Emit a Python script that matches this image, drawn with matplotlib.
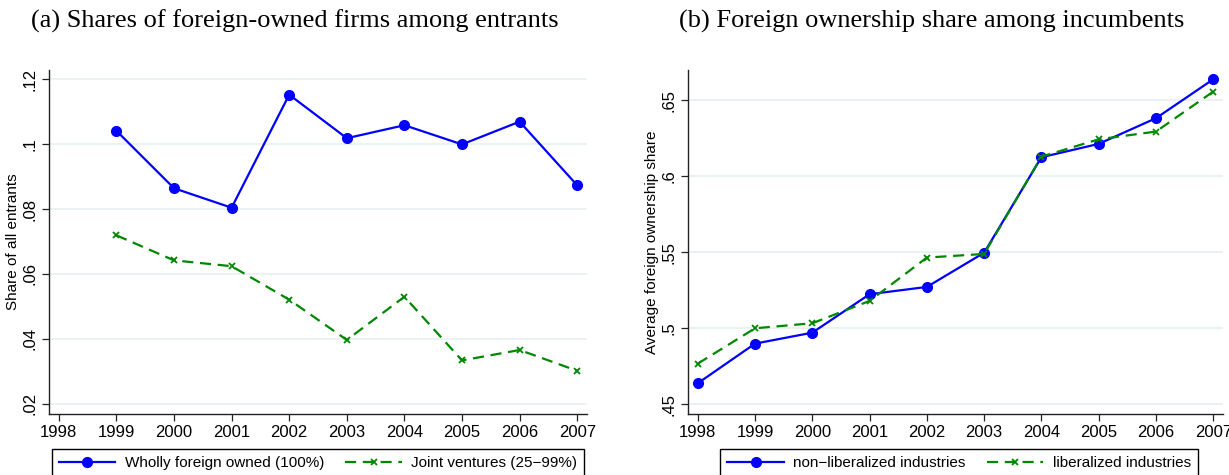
import matplotlib
matplotlib.use("Agg")
import matplotlib.pyplot as plt

# panel (a): shares of foreign-owned firms among entrants
years_a = [1999, 2000, 2001, 2002, 2003, 2004, 2005, 2006, 2007]
wholly_foreign = [0.1041, 0.0864, 0.0804, 0.1152, 0.1018, 0.1058, 0.0999, 0.1069, 0.0873]
joint_ventures = [0.0719, 0.0642, 0.0624, 0.0521, 0.0397, 0.0530, 0.0334, 0.0366, 0.0302]

# panel (b): foreign ownership share among incumbents
years_b = [1998, 1999, 2000, 2001, 2002, 2003, 2004, 2005, 2006, 2007]
non_liberalized = [0.4638, 0.4899, 0.4971, 0.5224, 0.5272, 0.5497, 0.6125, 0.6213, 0.6382, 0.6638]
liberalized = [0.4767, 0.5000, 0.5033, 0.5180, 0.5465, 0.5489, 0.6129, 0.6243, 0.6294, 0.6557]

xticks = list(range(1998, 2008))
yticks_a = [0.02, 0.04, 0.06, 0.08, 0.10, 0.12]
ylabels_a = ['.02', '.04', '.06', '.08', '.1', '.12']
yticks_b = [0.45, 0.50, 0.55, 0.60, 0.65]
ylabels_b = ['.45', '.5', '.55', '.6', '.65']

plt.rcParams['font.family'] = ['Liberation Sans', 'DejaVu Sans']

W, H = 1229, 475
fig = plt.figure(figsize=(W / 100, H / 100), dpi=100)


def px_axes(left, right, top, bottom):
    return fig.add_axes([left / W, 1 - bottom / H, (right - left) / W, (bottom - top) / H])


def style_axes(ax, yticks, ylabels, ylim):
    ax.set_xlim(1997.83, 2007.17)
    ax.set_ylim(*ylim)
    ax.set_xticks(xticks)
    ax.set_xticklabels([str(y) for y in xticks], fontsize=12)
    ax.set_yticks(yticks)
    ax.set_yticklabels(ylabels, fontsize=12, rotation=90, va='center')
    ax.grid(axis='y', color='#e8f0f2', linewidth=1.2)
    ax.set_axisbelow(True)
    for s in ['top', 'right']:
        ax.spines[s].set_visible(False)
    for s in ['left', 'bottom']:
        ax.spines[s].set_color('#222222')
        ax.spines[s].set_linewidth(1.0)
    ax.tick_params(direction='out', length=5, width=0.9, color='#222222', pad=3)


def add_legend(ax, cx, top):
    leg = ax.legend(loc='upper center', ncol=2, fontsize=11,
                    bbox_to_anchor=(cx / W, 1 - top / H), bbox_transform=fig.transFigure,
                    fancybox=False, edgecolor='black', framealpha=1,
                    handlelength=3.7, handletextpad=0.6, columnspacing=1.4,
                    borderpad=0.45, borderaxespad=0)
    leg.get_frame().set_linewidth(1.0)


blue = dict(color='#0000ff', marker='o', markersize=7, linewidth=1.6)
green = dict(color='#008800', marker='x', markersize=5, markeredgewidth=1.3,
             linewidth=1.6, linestyle=(0, (5, 3)))

ax1 = px_axes(49, 587, 70, 414)
ax1.plot(years_a, wholly_foreign, label='Wholly foreign owned (100%)', **blue)
ax1.plot(years_a, joint_ventures, label='Joint ventures (25\u221299%)', **green)
style_axes(ax1, yticks_a, ylabels_a, (0.0169, 0.1228))
ax1.set_ylabel('Share of all entrants', fontsize=11, labelpad=2)
add_legend(ax1, 318, 449)
fig.text(295 / W, 1 - 21 / H, '(a) Shares of foreign-owned firms among entrants',
         ha='center', va='center', fontsize=19, family='Liberation Serif')

ax2 = px_axes(688, 1223, 70, 414)
ax2.plot(years_b, non_liberalized, label='non\u2212liberalized industries', **blue)
ax2.plot(years_b, liberalized, label='liberalized industries', **green)
style_axes(ax2, yticks_b, ylabels_b, (0.4436, 0.6699))
ax2.set_ylabel('Average foreign ownership share', fontsize=11, labelpad=2)
add_legend(ax2, 959, 449)
fig.text(932 / W, 1 - 21 / H, '(b) Foreign ownership share among incumbents',
         ha='center', va='center', fontsize=19, family='Liberation Serif')

fig.savefig('out.png', dpi=100)
